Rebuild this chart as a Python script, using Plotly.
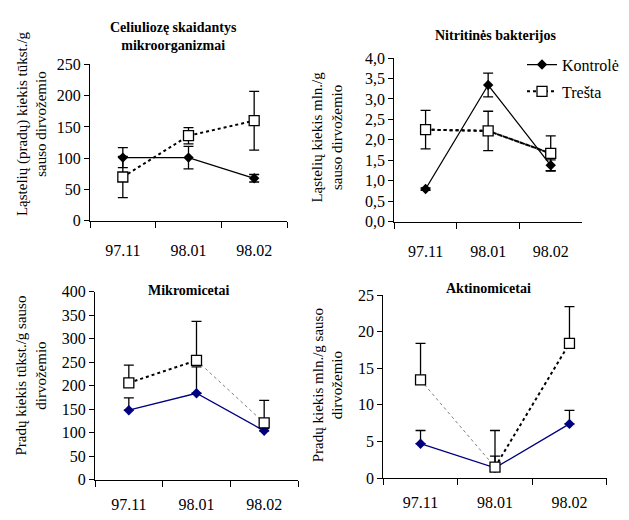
import plotly.graph_objects as go

categories = ["97.11", "98.01", "98.02"]
series_names = ["Kontrolė", "Trešta"]

cel_kontrole = [101, 101, 68]
cel_kontrole_err = [16, 18, 6]
cel_tresta = [70, 136, 160]
cel_tresta_err = [33, 13, 47]

nit_kontrole = [0.80, 3.34, 1.38]
nit_kontrole_err = [0.03, 0.29, 0.13]
nit_tresta = [2.25, 2.22, 1.67]
nit_tresta_err = [0.47, 0.48, 0.43]

mik_kontrole = [148, 184, 104]
mik_kontrole_err = [26, 56, 5]
mik_tresta = [206, 254, 121]
mik_tresta_err = [38, 83, 48]

akt_kontrole = [4.7, 1.4, 7.4]
akt_kontrole_err = [1.8, 1.6, 1.85]
akt_tresta = [13.4, 1.5, 18.4]
akt_tresta_err = [5.0, 5.0, 5.0]

titles = ["Celiuliozę skaidantys<br>mikroorganizmai", "Nitritinės bakterijos",
          "Mikromicetai", "Aktinomicetai"]
ytitles = ["Ląstelių (pradų) kiekis tūkst./g<br>sauso dirvožemio",
           "Ląstelių kiekis mln./g<br>sauso dirvožemio",
           "Pradų kiekis tūkst./g sauso<br>dirvožemio",
           "Pradų kiekis mln./g sauso<br>dirvožemio"]

W, H = 629, 520
FONT = "Liberation Serif"
NAVY = "#000080"

# panel pixel boxes: (x0, x1, ytop, ybottom)
boxes = [(90, 287, 58.3, 220), (394.3, 582, 51.7, 221),
         (95, 298, 293.3, 487.7), (383.3, 606.7, 296.7, 486)]
yranges = [(0, 250, 50), (0, 4, 0.5), (0, 400, 50), (0, 25, 5)]
title_pos = [(173, 29), (495, 28), (188, 292), (488, 290)]
ytitle_pos = [(32, 120), (327, 134), (31, 380), (328, 390)]
xlabel_standoff = [15, 15, 10, 10]
# style of the two "Trešta" connecting segments in each panel
seg_styles = [("thick", "thick"), ("thick", "thick"), ("thick", "thin"), ("thin", "thick")]
SEG = {"thick": dict(color="black", width=2, dash="dot"),
       "thin": dict(color="#808080", width=1, dash="3px,3px")}

panels = [
    (cel_kontrole, cel_kontrole_err, cel_tresta, cel_tresta_err, True),
    (nit_kontrole, nit_kontrole_err, nit_tresta, nit_tresta_err, True),
    (mik_kontrole, mik_kontrole_err, mik_tresta, mik_tresta_err, False),
    (akt_kontrole, akt_kontrole_err, akt_tresta, akt_tresta_err, False),
]

fig = go.Figure()
layout = dict(width=W, height=H, margin=dict(l=0, r=0, t=0, b=0),
              plot_bgcolor="white", paper_bgcolor="white",
              font=dict(family=FONT, size=16, color="black"),
              separators=", ", annotations=[])

for i, (k, ke, t, te, both) in enumerate(panels):
    ax = "" if i == 0 else str(i + 1)
    xref, yref = "x" + ax, "y" + ax
    kcolor = "black" if i < 2 else NAVY
    show = (i == 1)
    fig.add_trace(go.Scatter(
        x=categories, y=k, name=series_names[0], xaxis=xref, yaxis=yref,
        mode="lines+markers", showlegend=show, legendgroup="k",
        line=dict(color=kcolor, width=1.3),
        marker=dict(symbol="diamond", size=8, color=kcolor, line=dict(width=0)),
        error_y=dict(type="data", array=ke, arrayminus=ke if both else [0] * len(ke),
                     symmetric=False, color="black", thickness=1.3, width=5)))
    # connecting segments of the "Trešta" series
    for s in range(len(categories) - 1):
        fig.add_trace(go.Scatter(
            x=categories[s:s + 2], y=t[s:s + 2], xaxis=xref, yaxis=yref,
            mode="lines", showlegend=False, hoverinfo="skip", legendgroup="t",
            line=SEG[seg_styles[i][s]]))
    fig.add_trace(go.Scatter(
        x=categories, y=t, name=series_names[1], xaxis=xref, yaxis=yref,
        mode="markers" if i != 1 else "lines+markers", showlegend=show, legendgroup="t",
        line=dict(color="black", width=2, dash="dot"),
        marker=dict(symbol="square", size=10, color="white", line=dict(color="black", width=1.3)),
        error_y=dict(type="data", array=te, arrayminus=te if both else [0] * len(te),
                     symmetric=False, color="black", thickness=1.3, width=5)))

    x0, x1, yt, yb = boxes[i]
    y0, y1, dt = yranges[i]
    layout["xaxis" + ax] = dict(
        domain=[x0 / W, x1 / W], anchor=yref, type="category", range=[-0.5, 2.5],
        showline=True, linecolor="black", linewidth=1, ticks="outside", ticklen=6,
        tickcolor="black", tickwidth=1, tickson="boundaries", showgrid=False,
        zeroline=False, tickfont=dict(size=16, family=FONT),
        ticklabelstandoff=xlabel_standoff[i], fixedrange=True)
    layout["yaxis" + ax] = dict(
        domain=[1 - yb / H, 1 - yt / H], anchor=xref, range=[y0, y1], dtick=dt,
        tick0=0, showline=True, linecolor="black", linewidth=1, ticks="outside",
        ticklen=5, tickcolor="black", tickwidth=1, showgrid=False, zeroline=False,
        tickfont=dict(size=16, family=FONT), tickformat=".1f" if i == 1 else "d",
        fixedrange=True)

    tx, ty = title_pos[i]
    layout["annotations"].append(dict(
        text="<b>" + titles[i] + "</b>", x=tx / W, y=1 - ty / H, xref="paper", yref="paper",
        showarrow=False, font=dict(size=14, family=FONT), xanchor="center", yanchor="middle"))
    ax_, ay_ = ytitle_pos[i]
    layout["annotations"].append(dict(
        text=ytitles[i], x=ax_ / W, y=1 - ay_ / H, xref="paper", yref="paper",
        showarrow=False, textangle=-90, font=dict(size=15, family=FONT),
        xanchor="center", yanchor="middle"))

layout["legend"] = dict(x=522 / W, y=1 - 41 / H, xanchor="left", yanchor="top",
                        bgcolor="rgba(0,0,0,0)", font=dict(size=16, family=FONT),
                        traceorder="grouped", tracegroupgap=3)
fig.update_layout(**layout)
fig.write_html(
    "out.html",
    config={"displayModeBar": False, "staticPlot": True},
    post_script="document.body.style.margin='0';document.body.style.padding='0';"
                "document.documentElement.style.overflow='hidden';")
